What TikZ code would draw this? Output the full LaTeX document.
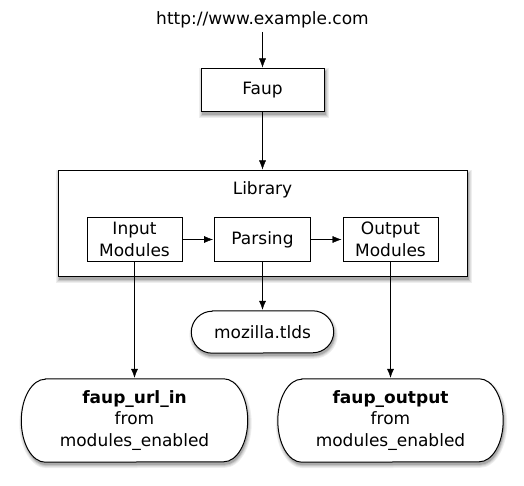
\documentclass[tikz,border=0pt]{standalone}
\usepackage{fontspec}
\setmainfont{DejaVu Sans}
\usetikzlibrary{arrows.meta}

\definecolor{shadowA}{RGB}{238,238,238}
\definecolor{shadowB}{RGB}{222,222,222}
\definecolor{shadowC}{RGB}{200,200,200}
\definecolor{shadowD}{RGB}{170,170,170}

\def\boxfont{\fontsize{17}{21.7}\selectfont}
% node, x radius, y radius, grow, x offset, y offset
\def\stadium#1#2#3#4#5#6{([shift={(#2+#5,-#4+#6)}]#1.north west) -- ([shift={(-#2+#5,-#4+#6)}]#1.north east)
    arc[start angle=90,end angle=-90,x radius=#2pt+#4pt,y radius=#3pt+#4pt]
    -- ([shift={(#2+#5,#4+#6)}]#1.south west)
    arc[start angle=270,end angle=90,x radius=#2pt+#4pt,y radius=#3pt+#4pt] -- cycle}
\pgfdeclarelayer{background}
\pgfsetlayers{background,main}

\begin{document}
\begin{tikzpicture}[x=1pt,y=-1pt,shorten >=1pt,-{Latex[length=9pt,width=7pt]},font=\boxfont]
    \tikzstyle{plain}=[rectangle,draw=black,line width=1pt,fill=white,inner sep=0pt,align=center]
    \tikzstyle{source}=[rectangle,inner sep=0pt,align=center]
    \tikzstyle{outline}=[draw=black,line width=1pt,fill=white,-,shorten >=0pt]
    \tikzstyle{dropfill}=[draw=none,-,shorten >=0pt]

    \useasboundingbox (0,0) rectangle (524,486);

    \node (url) at (262.5,20) {http://www.example.com};
    \node[plain,minimum width=123pt,minimum height=43pt] (faup) at (262.5,90.5) {Faup};
    \node[plain,minimum width=409pt,minimum height=105pt] (lib) at (262.5,223.5) {};
    \node (libname) at (262.5,190) {Library};

    \node[plain,minimum width=95pt,minimum height=43pt] (in) at (134.5,239.5) {Input\\Modules};
    \node[plain,minimum width=96pt,minimum height=43pt] (par) at (262.5,239.5) {Parsing};
    \node[plain,minimum width=95pt,minimum height=43pt] (out) at (390.5,239.5) {Output\\Modules};

    \node[source,minimum width=142pt,minimum height=42pt] (moz) at (262.5,332) {mozilla.tlds};
    \node[source,minimum width=226pt,minimum height=83pt] (urlin) at (134.5,420.5) {\textbf{faup\_url\_in}\\from\\modules\_enabled};
    \node[source,minimum width=225pt,minimum height=83pt] (outmod) at (390.5,420.5) {\textbf{faup\_output}\\from\\modules\_enabled};

    \begin{pgfonlayer}{background}
    \foreach \g/\col in {3/shadowA,2/shadowB,1/shadowC,0/shadowD} {
        \foreach \n in {faup,lib}
            \fill[dropfill,fill=\col] ([shift={(1-\g,3-\g)}]\n.north west) rectangle ([shift={(1+\g,3+\g)}]\n.south east);
        \fill[dropfill,fill=\col] \stadium{moz}{21}{21}{\g}{1}{3};
        \foreach \n in {urlin,outmod}
            \fill[dropfill,fill=\col] \stadium{\n}{24}{41.5}{\g}{1}{3};
    }
    \draw[outline] \stadium{moz}{21}{21}{0}{0}{0};
    \foreach \n in {urlin,outmod}
        \draw[outline] \stadium{\n}{24}{41.5}{0}{0}{0};
    \end{pgfonlayer}

    \draw (url) -- (faup);
    \draw (faup) -- (lib);
    \draw (in) -- (par);
    \draw (par) -- (out);
    \draw (par) -- (moz);
    \draw (in.south) -- (in.south |- urlin.north);
    \draw (out.south) -- (out.south |- outmod.north);
\end{tikzpicture}
\end{document}
